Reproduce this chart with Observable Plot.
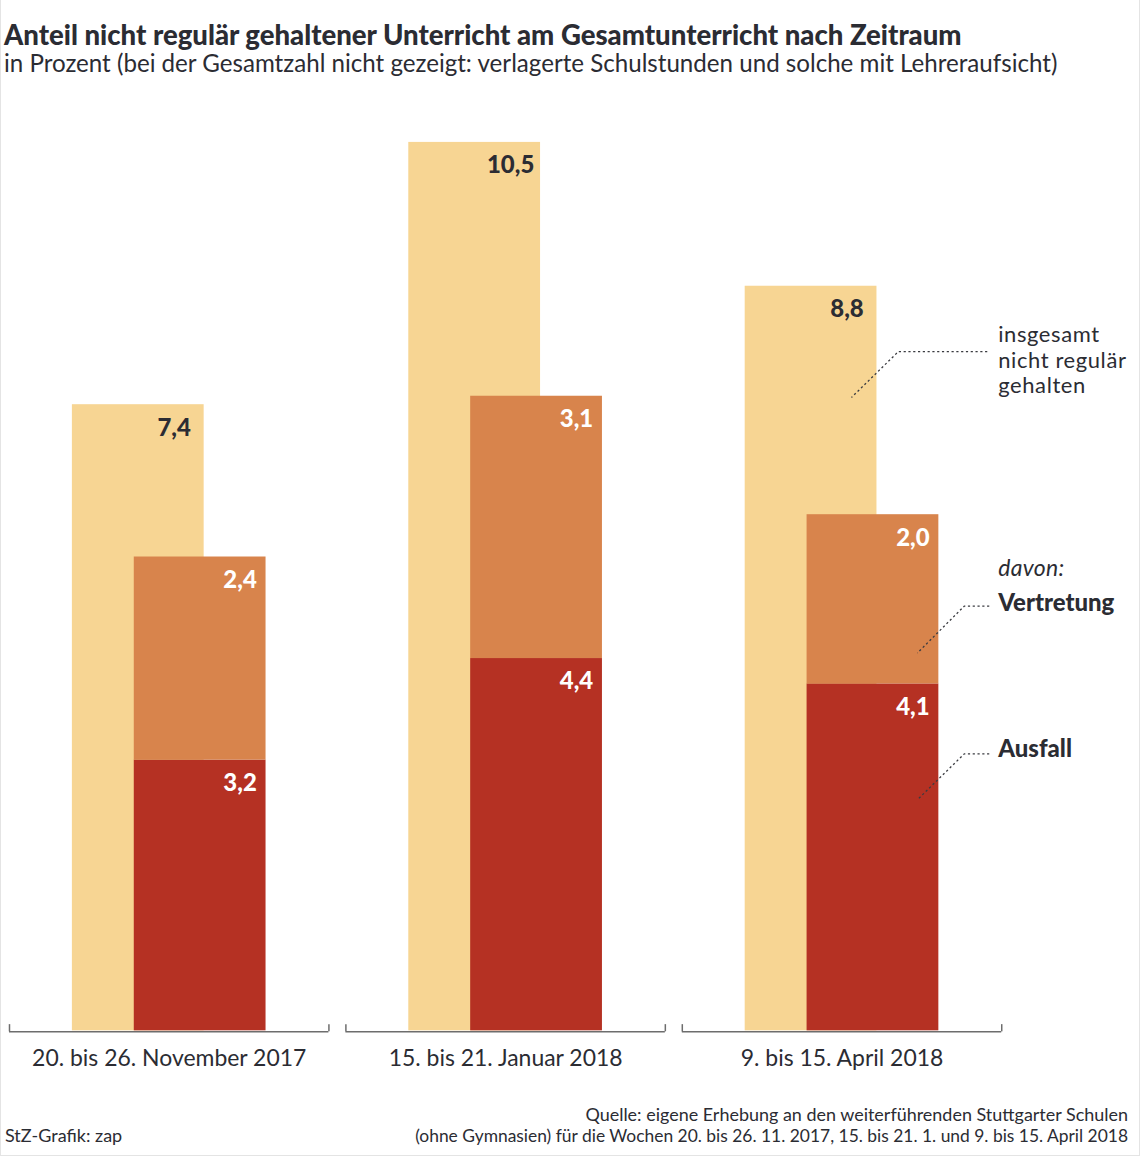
<!DOCTYPE html>
<html>
<head>
<meta charset="utf-8">
<script src="https://cdn.jsdelivr.net/npm/d3@7"></script>
<script src="https://cdn.jsdelivr.net/npm/@observablehq/plot@0.6"></script>
<style>
  html, body { margin: 0; padding: 0; background: #fff; }
  #wrap { position: relative; width: 1140px; height: 1156px; box-sizing: border-box; border: 1px solid #e4e4e4; border-top: none; font-family: Lato, "Noto Sans", sans-serif; color: #2b2c33; overflow: hidden; }
  .t { position: absolute; white-space: nowrap; line-height: 1.2; }
  #title { left: 3px; top: 18px; font-size: 25px; font-weight: 900; }
  #subtitle { left: 3px; top: 49px; font-size: 23px; font-weight: 400; }
  #credit { left: 4px; top: 1125px; font-size: 18px; }
  #source { right: 11px; top: 1104px; font-size: 18.5px; text-align: right; line-height: 21px; }
  #chart { position: absolute; left: 0; top: 88px; }
</style>
</head>
<body>
<div id="wrap">
  <div class="t" id="title"><span data-w="958">Anteil nicht regulär gehaltener Unterricht am Gesamtunterricht nach Zeitraum</span></div>
  <div class="t" id="subtitle"><span data-w="1054">in Prozent (bei der Gesamtzahl nicht gezeigt: verlagerte Schulstunden und solche mit Lehreraufsicht)</span></div>
  <div id="chart"></div>
  <div class="t" id="source"><span data-w="543">Quelle: eigene Erhebung an den weiterführenden Stuttgarter Schulen</span><br><span data-w="713">(ohne Gymnasien) für die Wochen 20. bis 26. 11. 2017, 15. bis 21. 1. und 9. bis 15. April 2018</span></div>
  <div class="t" id="credit">StZ-Grafik: zap</div>
</div>
<script>
// ---- data ----
const categories = ["20. bis 26. November 2017", "15. bis 21. Januar 2018", "9. bis 15. April 2018"];
const totalValues = [7.4, 10.5, 8.8];
const ausfallValues = [3.2, 4.4, 4.1];
const vertretungValues = [2.4, 3.1, 2.0];
const seriesNames = ["Ausfall", "Vertretung"];
const seriesColors = ["#b53123", "#d8844c"];
const totalColor = "#f7d593";

const totals = categories.map((c, i) => ({cat: c, value: totalValues[i]}));
const parts = categories.flatMap((c, i) => [
  {cat: c, type: "Ausfall", value: ausfallValues[i]},
  {cat: c, type: "Vertretung", value: vertretungValues[i]}
]);
const fmt = v => d3.format(".1f")(v).replace(".", ",");
const ink = "#2b2c33";

const chart = Plot.plot({
  width: 1140,
  height: 1000,
  marginLeft: 8,
  marginRight: 138,
  marginTop: 54,
  marginBottom: 56,
  style: {fontFamily: "Lato, 'Noto Sans', sans-serif", background: "transparent", color: ink},
  x: {domain: categories, paddingInner: 17 / 337, paddingOuter: 0, align: 0.5, axis: null},
  y: {domain: [0, 10.5], axis: null},
  color: {domain: seriesNames, range: seriesColors},
  marks: [
    Plot.rectY(totals, {x: "cat", y: "value", fill: totalColor, insetLeft: 63, insetRight: 125}),
    Plot.rectY(parts, Plot.stackY({x: "cat", y: "value", z: "type", fill: "type", order: seriesNames, insetLeft: 125, insetRight: 63})),
    Plot.text(totals, {x: "cat", y: "value", text: d => fmt(d.value), dx: 5, dy: 31, lineAnchor: "bottom", fontWeight: 900, fontSize: 24, fill: ink}),
    Plot.text(parts, Plot.stackY2({x: "cat", y: "value", z: "type", order: seriesNames, text: d => fmt(d.value), dx: 71, dy: 31, lineAnchor: "bottom", fontWeight: 900, fontSize: 24, fill: "white"})),
    Plot.tickY(categories, {x: d => d, y: 0, stroke: "#6d6d6d", strokeWidth: 1.5, dy: 1}),
    Plot.ruleX(categories, {x: d => d, y1: 0, y2: 0.085, dx: -160, dy: 1, stroke: "#6d6d6d", strokeWidth: 1.5}),
    Plot.ruleX(categories, {x: d => d, y1: 0, y2: 0.085, dx: 160, dy: 1, stroke: "#6d6d6d", strokeWidth: 1.5}),
    Plot.text(categories, {x: d => d, y: 0, text: d => d, dy: 35, lineAnchor: "bottom", fontSize: 23, fill: ink})
  ]
});
document.getElementById("chart").appendChild(chart);

// ---- annotations (legend labels with dotted leaders) ----
const svg = d3.select(chart);
const notes = [
  {lines: ["insgesamt", "nicht regulär", "gehalten"], x: 999, y: 254, weight: 400, style: "normal", size: 22, lh: 26, ls: 0.6},
  {lines: ["davon:"], x: 999, y: 489, weight: 400, style: "italic", size: 23, lh: 25, ls: 0.3},
  {lines: ["Vertretung"], x: 999, y: 524, weight: 900, style: "normal", size: 24, lh: 25, ls: 0},
  {lines: ["Ausfall"], x: 999, y: 670, weight: 900, style: "normal", size: 24, lh: 25, ls: 0}
];
const leaders = [
  [[988, 264], [899, 264], [852, 310]],
  [[990, 519], [965, 519], [918, 566]],
  [[990, 667], [965, 667], [918, 713]]
];
const g = svg.append("g").attr("text-anchor", "start");
g.selectAll("path.leader").data(leaders).join("path")
  .attr("d", d3.line())
  .attr("fill", "none").attr("stroke", "#3a3b40").attr("stroke-width", 1.3).attr("stroke-dasharray", "2.2,2.6");
notes.forEach(n => {
  n.lines.forEach((l, i) => {
    g.append("text").attr("x", n.x).attr("y", n.y + i * n.lh).attr("text-anchor", "start")
      .attr("font-family", "Lato, 'Noto Sans', sans-serif")
      .attr("font-size", n.size).attr("font-weight", n.weight).attr("font-style", n.style)
      .attr("letter-spacing", n.ls).attr("fill", ink)
      .text(l);
  });
});

// fit header/footer text widths
document.querySelectorAll("span[data-w]").forEach(s => {
  const target = +s.dataset.w;
  const cs = parseFloat(getComputedStyle(s).fontSize);
  const w = s.getBoundingClientRect().width;
  if (w > 0) s.style.fontSize = (cs * target / w).toFixed(2) + "px";
});
</script>
</body>
</html>
